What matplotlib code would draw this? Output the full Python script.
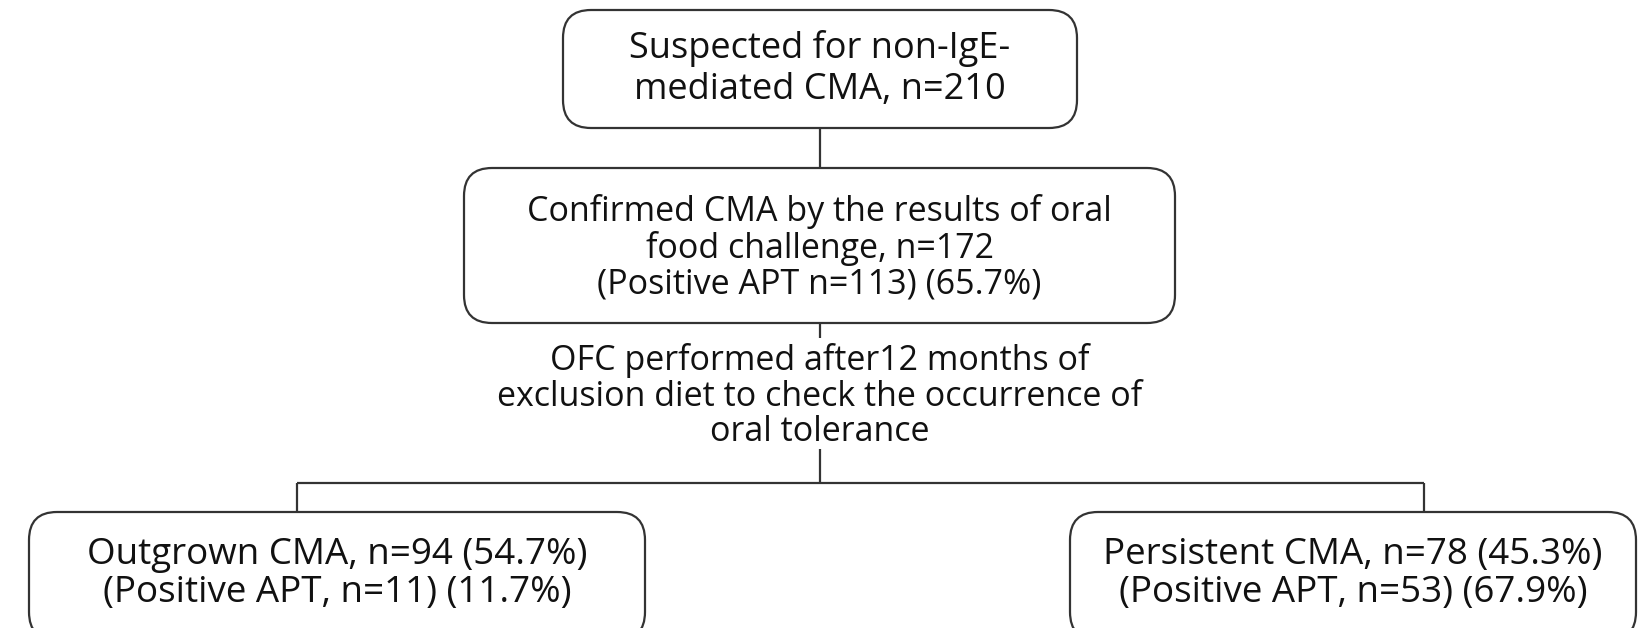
import matplotlib.pyplot as plt
from matplotlib.patches import FancyBboxPatch

# texts of the flowchart
top_text = "Suspected for non-IgE-\nmediated CMA, n=210"
confirmed_text = "Confirmed CMA by the results of oral\nfood challenge, n=172\n(Positive APT n=113) (65.7%)"
ofc_text = "OFC performed after12 months of\nexclusion diet to check the occurrence of\noral tolerance"
outgrown_text = "Outgrown CMA, n=94 (54.7%)\n(Positive APT, n=11) (11.7%)"
persistent_text = "Persistent CMA, n=78 (45.3%)\n(Positive APT, n=53) (67.9%)"

W, H = 1645, 628
fig = plt.figure(figsize=(W / 100, H / 100), dpi=100)
ax = fig.add_axes([0, 0, 1, 1])
ax.set_xlim(0, W)
ax.set_ylim(H, 0)
ax.axis('off')

lc = '#333333'
lw = 1.6
font = 'Open Sans'


def box(x0, y0, x1, y1, text, size, ls, ty=None):
    r = 28
    p = FancyBboxPatch((x0 + r, y0 + r), (x1 - x0) - 2 * r, (y1 - y0) - 2 * r,
                       boxstyle="round,pad=%d" % r, fc='white', ec=lc, lw=lw)
    ax.add_patch(p)
    if ty is None:
        ty = (y0 + y1) / 2
    ax.text((x0 + x1) / 2, ty, text, ha='center', va='center',
            fontsize=size, family=font, linespacing=ls, color='#111111')


def line(xs, ys):
    ax.plot(xs, ys, color=lc, lw=lw, solid_capstyle='butt')


cx = 820
# connectors
line([cx, cx], [128, 168])
line([cx, cx], [323, 338])
line([cx, cx], [449, 483])
line([297, 1424], [483, 483])
line([297, 297], [483, 512])
line([1424, 1424], [483, 512])

box(563, 10, 1077, 128, top_text, 26, 1.2)
box(464, 168, 1175, 323, confirmed_text, 24.5, 1.06, ty=248)
ax.text(cx, 396, ofc_text, ha='center', va='center', fontsize=24.5,
        family=font, linespacing=1.06, color='#111111')
box(29, 512, 645, 640, outgrown_text, 26.5, 1.08, ty=574)
box(1070, 512, 1636, 640, persistent_text, 26.5, 1.08, ty=574)

fig.savefig('out.png', dpi=100, facecolor='white')
